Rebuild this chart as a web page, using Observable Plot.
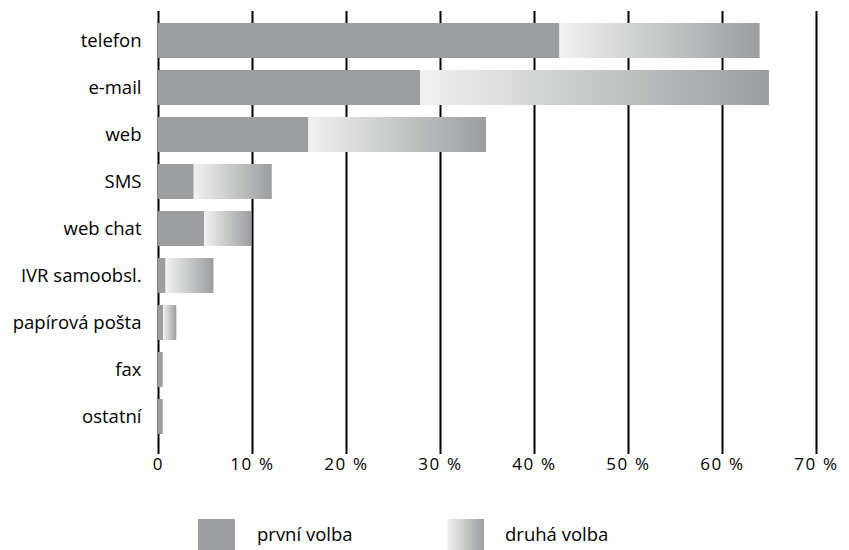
<!DOCTYPE html>
<html>
<head>
<meta charset="utf-8">
<script src="https://cdn.jsdelivr.net/npm/d3@7"></script>
<script src="https://cdn.jsdelivr.net/npm/@observablehq/plot@0.6"></script>
<style>
  body { margin: 0; background: #fff; font-family: "Open Sans", sans-serif; }
  #wrap { position: relative; width: 849px; height: 550px; }
  #legend { position: absolute; left: 0; top: 0; width: 849px; height: 550px; pointer-events: none; }
  .sw { position: absolute; width: 37px; height: 31px; }
  .lt { position: absolute; font-size: 18.5px; color: #000; line-height: 31px; }
</style>
</head>
<body>
<div id="wrap">
  <div id="chart"></div>
  <div id="legend">
    <div class="sw" style="left:198px; top:519px; background:#9c9d9f;"></div>
    <div class="lt" style="left:257px; top:518px;">první volba</div>
    <div class="sw" style="left:447px; top:519px; background:linear-gradient(to right,#f0f1f0,#9c9d9f);"></div>
    <div class="lt" style="left:505px; top:518px;">druhá volba</div>
  </div>
</div>
<script>
const categories = ["telefon", "e-mail", "web", "SMS", "web chat", "IVR samoobsl.", "papírová pošta", "fax", "ostatní"];
const firstChoice = [42.7, 27.9, 16.0, 3.8, 4.9, 0.8, 0.55, 0.5, 0.5];
const secondChoice = [21.3, 37.1, 18.9, 8.3, 5.0, 5.1, 1.4, 0, 0];
const xTicks = [0, 10, 20, 30, 40, 50, 60, 70];

const solid = "#9c9d9f";

const firstRows = categories.map((c, i) => ({cat: c, x1: 0, x2: firstChoice[i]}));
const secondRows = categories.map((c, i) => ({cat: c, x1: firstChoice[i], x2: firstChoice[i] + secondChoice[i]}))
  .filter(d => d.x2 > d.x1);

const defs = () => {
  const g = d3.create("svg:defs");
  const lg = g.append("linearGradient").attr("id", "grad2").attr("x1", 0).attr("x2", 1).attr("y1", 0).attr("y2", 0);
  lg.append("stop").attr("offset", "0%").attr("stop-color", "#f0f1f0");
  lg.append("stop").attr("offset", "100%").attr("stop-color", solid);
  return g.node();
};

const chart = Plot.plot({
  width: 849,
  height: 490,
  marginLeft: 158,
  marginRight: 33,
  marginTop: 11,
  marginBottom: 36,
  style: {fontFamily: "'Open Sans', sans-serif", fontSize: "18px", color: "#000", background: "#fff"},
  x: {domain: [0, 70]},
  y: {domain: categories, range: [20, 437.7], paddingInner: 0.246, paddingOuter: 0},
  marks: [
    defs,
    Plot.ruleX(xTicks, {stroke: "#000", strokeWidth: 2}),
    Plot.barX(firstRows, {y: "cat", x1: "x1", x2: "x2", fill: solid}),
    Plot.barX(secondRows, {y: "cat", x1: "x1", x2: "x2", fill: "url(#grad2)"}),
    Plot.axisY({tickSize: 0, tickPadding: 17, label: null, fontSize: 18.5}),
    Plot.axisX({ticks: xTicks, tickSize: 0, tickPadding: 3, label: null, fontSize: 17,
      tickFormat: d => d === 0 ? "0" : d + " %"})
  ]
});
d3.select(chart).selectAll("g[aria-label='x-axis tick label'] text").style("letter-spacing", "0.1em");
document.getElementById("chart").appendChild(chart);
</script>
</body>
</html>
